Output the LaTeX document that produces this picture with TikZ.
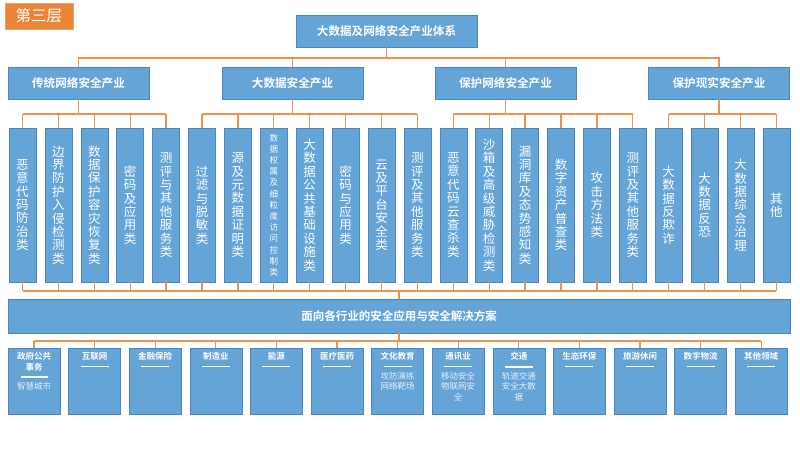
\documentclass[tikz,border=0pt]{standalone}
\usepackage{fontspec}
\setmainfont{Noto Sans CJK SC}[BoldFont={Noto Sans CJK SC Bold}]
\usetikzlibrary{calc}
\definecolor{boxblue}{RGB}{100,164,215}
\definecolor{boxedge}{RGB}{78,132,186}
\definecolor{lineor}{RGB}{237,148,76}
\definecolor{tagor}{RGB}{234,132,55}
\begin{document}
\begin{tikzpicture}[x=1pt,y=-1pt,
  bx/.style={draw=boxedge, line width=0.6pt, fill=boxblue, inner sep=0pt, text=white},
  hbox/.style={bx, minimum width=141pt, minimum height=32pt, font=\fontsize{11.6}{13}\selectfont\bfseries},
  vb/.style={bx, minimum width=27pt, minimum height=154pt, align=center},
  bigv/.style={font=\fontsize{12.5}{13.4}\selectfont},
  smallv/.style={font=\fontsize{8.5}{11.2}\selectfont},
  bb/.style={bx, minimum width=52pt, minimum height=66pt},
  btitle/.style={inner sep=0pt, text=white, align=center, font=\fontsize{8.5}{10.5}\selectfont\bfseries},
  bsub/.style={inner sep=0pt, text=white!85!boxblue, align=center, anchor=north, font=\fontsize{8.5}{10.5}\selectfont},
  conn/.style={draw=lineor, line width=1.3pt},
  uline/.style={draw=white, line width=0.6pt},
  thickuline/.style={draw=white, line width=1.8pt}]
\useasboundingbox (0,0) rectangle (800,450);

% tag
\node[draw=tagor!75!white, line width=0.6pt, fill=tagor, minimum width=68pt, minimum height=26pt,
      inner sep=0pt, text=white, font=\fontsize{15.5}{15.5}\selectfont] (tag) at (39,16) {第三层};

% top box and categories
\node[bx, minimum width=181pt, minimum height=32pt, font=\fontsize{11.6}{13}\selectfont\bfseries] (top) at (386.5,31) {大数据及网络安全产业体系};
\node[hbox] (c1) at (78.5,83) {传统网络安全产业};
\node[hbox] (c2) at (292.5,83) {大数据安全产业};
\node[hbox] (c3) at (505.5,83) {保护网络安全产业};
\node[hbox] (c4) at (719,83) {保护现实安全产业};

% vertical boxes
\foreach \t [count=\i from 0] in {
  {恶\\意\\代\\码\\防\\治\\类},
  {边\\界\\防\\护\\入\\侵\\检\\测\\类},
  {数\\据\\保\\护\\容\\灾\\恢\\复\\类},
  {密\\码\\及\\应\\用\\类},
  {测\\评\\与\\其\\他\\服\\务\\类},
  {过\\滤\\与\\脱\\敏\\类},
  {源\\及\\元\\数\\据\\证\\明\\类},
  {数\\据\\权\\属\\及\\细\\粒\\度\\访\\问\\控\\制\\类},
  {大\\数\\据\\公\\共\\基\\础\\设\\施\\类},
  {密\\码\\与\\应\\用\\类},
  {云\\及\\平\\台\\安\\全\\类},
  {测\\评\\及\\其\\他\\服\\务\\类},
  {恶\\意\\代\\码\\云\\查\\杀\\类},
  {沙\\箱\\及\\高\\级\\威\\胁\\检\\测\\类},
  {漏\\洞\\库\\及\\态\\势\\感\\知\\类},
  {数\\字\\资\\产\\普\\查\\类},
  {攻\\击\\方\\法\\类},
  {测\\评\\及\\其\\他\\服\\务\\类},
  {大\\数\\据\\反\\欺\\诈},
  {大\\数\\据\\反\\恐},
  {大\\数\\据\\综\\合\\治\\理},
  {其\\他}} {
  \ifnum\i=7 \def\vf{smallv}\else\def\vf{bigv}\fi
  \node[vb, \vf] (v\i) at ({22.5+35.9*\i},205) {\t};
}

% banner
\node[bx, minimum width=782pt, minimum height=34pt, font=\fontsize{11.5}{13}\selectfont\bfseries] (banner) at (399,316) {面向各行业的安全应用与安全解决方案};

% bottom boxes
\foreach \i in {0,...,12} {
  \node[bb] (b\i) at ({34+60.6*\i},381) {};
}

% helper coordinates for bus lines
\coordinate (y58) at (0,58);
\coordinate (y114) at (0,114);
\coordinate (y291) at (0,291);
\coordinate (y341) at (0,341);

% top connectors
\draw[conn] (top.south) -- (top.south |- y58);
\draw[conn] (c1.north) -- (c1.north |- y58) -- (c4.north |- y58) -- (c4.north);
\draw[conn] (c2.north) -- (c2.north |- y58);
\draw[conn] (c3.north) -- (c3.north |- y58);

% category to children
\draw[conn] (c1.south) -- (c1.south |- y114);
\draw[conn] (v0.north |- y114) -- (v4.north |- y114);
\draw[conn] (c2.south) -- (c2.south |- y114);
\draw[conn] (v5.north |- y114) -- (v11.north |- y114);
\draw[conn] (c3.south) -- (c3.south |- y114);
\draw[conn] (v12.north |- y114) -- (v17.north |- y114);
\draw[conn] (c4.south) -- (c4.south |- y114);
\draw[conn] (v18.north |- y114) -- (v21.north |- y114);
\foreach \i in {0,...,21} {
  \draw[conn] (v\i.north |- y114) -- (v\i.north);
  \draw[conn] (v\i.south) -- (v\i.south |- y291);
}
\draw[conn] (v0.south |- y291) -- (v21.south |- y291);
\draw[conn] (banner.north |- y291) -- (banner.north);

% banner to bottom boxes
\draw[conn] (banner.south) -- (banner.south |- y341);
\draw[conn] (b0.north |- y341) -- (b12.north |- y341);
\foreach \i in {0,...,12} {
  \draw[conn] (b\i.north |- y341) -- (b\i.north);
}

% bottom texts
\node[btitle] (t0) at ($(b0.north)+(0,14)$) {政府公共\\事务};
\draw[thickuline] ($(b0.north)+(-13.5,29)$) -- ++(27,0);
\node[bsub] (s0) at ($(b0.north)+(0,34)$) {智慧城市};

\foreach \t [count=\i from 1] in {互联网,金融保险,制造业,能源,医疗医药,文化教育,通讯业,交通,生态环保,旅游休闲,数字物流,其他领域} {
  \node[btitle] (t\i) at ($(b\i.north)+(0,9)$) {\t};
}
\foreach \i in {1,2,3,4,5,6,7,9,10,11,12} {
  \draw[uline] ($(b\i.north)+(-14,19)$) -- ++(28,0);
}
\draw[thickuline] ($(b8.north)+(-14,19)$) -- ++(28,0);

\node[bsub] (s6) at ($(b6.north)+(0,24)$) {攻防演练\\网络靶场};
\node[bsub] (s7) at ($(b7.north)+(0,24)$) {移动安全\\物联网安\\全};
\node[bsub] (s8) at ($(b8.north)+(0,24)$) {轨道交通\\安全大数\\据};
\end{tikzpicture}
\end{document}
